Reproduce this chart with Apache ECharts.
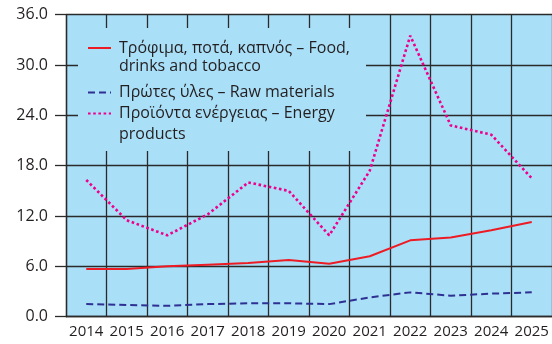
<!DOCTYPE html>
<html>
<head>
<meta charset="utf-8">
<script src="https://cdn.jsdelivr.net/npm/echarts@6/dist/echarts.min.js"></script>
<style>
  html, body { margin: 0; padding: 0; background: #ffffff; }
  #chart { width: 552px; height: 344px; }
</style>
</head>
<body>
<div id="chart"></div>
<script>
// Price indices by product group, 2014–2025
const years = ['2014', '2015', '2016', '2017', '2018', '2019', '2020', '2021', '2022', '2023', '2024', '2025'];
const food = [5.7, 5.7, 6.0, 6.2, 6.4, 6.75, 6.3, 7.2, 9.1, 9.45, 10.3, 11.3];
const rawMaterials = [1.5, 1.4, 1.3, 1.5, 1.6, 1.6, 1.5, 2.3, 2.9, 2.5, 2.75, 2.9];
const energy = [16.3, 11.5, 9.7, 12.2, 16.0, 15.0, 9.7, 17.4, 33.5, 22.8, 21.7, 16.5];

const seriesNames = [
  'Τρόφιμα, ποτά, καπνός – Food,\ndrinks and tobacco',
  'Πρώτες ύλες – Raw materials',
  'Προϊόντα ενέργειας – Energy\nproducts'
];

const yMin = 0, yMax = 36, yStep = 6;

const FONT = '"Open Sans", "Noto Sans", sans-serif';
const TEXT = '#231f20';
const PLOT_BG = '#aadff8';
const GRID_LINE = '#2a2a2a';

const chart = echarts.init(document.getElementById('chart'), null, { renderer: 'canvas' });

// One legend block per series; two-line names get a blank leading line so
// the key line sits level with the first line of text.
function legendBlock(name, top, multiLine, lineHeight) {
  return {
    show: true,
    orient: 'vertical',
    left: 87,
    top: top,
    padding: 0,
    itemWidth: 23,
    itemHeight: 14,
    selectedMode: false,
    data: [name],
    formatter: function (n) { return multiLine ? '\n' + n : n; },
    itemStyle: { opacity: 0 },
    textStyle: {
      fontFamily: FONT,
      fontSize: 16,
      color: TEXT,
      lineHeight: lineHeight,
      padding: [0, 0, 0, 3]
    }
  };
}

const option = {
  backgroundColor: '#ffffff',
  animation: false,
  grid: {
    left: 66,
    top: 14.7,
    right: -6,
    bottom: 27.3,
    show: true,
    backgroundColor: PLOT_BG,
    borderWidth: 0
  },
  legend: [
    legendBlock(seriesNames[0], 21, true, 18),
    legendBlock(seriesNames[1], 83, false, 19),
    legendBlock(seriesNames[2], 82, true, 21)
  ],
  graphic: [{
    type: 'rect',
    z: 1,
    shape: { x: 78, y: 28, width: 288, height: 123 },
    style: { fill: PLOT_BG },
    silent: true
  }],
  xAxis: {
    type: 'category',
    data: years,
    boundaryGap: true,
    axisLine: { show: true, lineStyle: { color: GRID_LINE, width: 1.3 } },
    axisTick: { show: false },
    axisLabel: {
      fontFamily: FONT,
      fontSize: 15,
      color: TEXT,
      margin: 8,
      interval: 0
    },
    splitLine: { show: true, interval: 0, lineStyle: { color: GRID_LINE, width: 1.3 } }
  },
  yAxis: {
    type: 'value',
    min: yMin,
    max: yMax,
    interval: yStep,
    axisLine: { show: true, lineStyle: { color: GRID_LINE, width: 1.3 } },
    axisTick: { show: true, inside: false, length: 11, lineStyle: { color: GRID_LINE, width: 1.3 } },
    axisLabel: {
      fontFamily: FONT,
      fontSize: 16,
      color: TEXT,
      margin: 18,
      formatter: function (v) { return v.toFixed(1); }
    },
    splitLine: { show: true, lineStyle: { color: GRID_LINE, width: 1.3 } }
  },
  series: [
    {
      name: seriesNames[0],
      type: 'line',
      data: food,
      symbol: 'none',
      smooth: false,
      lineStyle: { color: '#ed1c24', width: 2, type: 'solid' },
      itemStyle: { color: '#ed1c24' }
    },
    {
      name: seriesNames[1],
      type: 'line',
      data: rawMaterials,
      symbol: 'none',
      smooth: false,
      lineStyle: { color: '#2e3192', width: 2, type: [7, 4] },
      itemStyle: { color: '#2e3192' }
    },
    {
      name: seriesNames[2],
      type: 'line',
      data: energy,
      symbol: 'none',
      smooth: false,
      lineStyle: { color: '#ec008c', width: 2.6, type: [2.6, 2.6] },
      itemStyle: { color: '#ec008c' }
    }
  ]
};

chart.setOption(option);
</script>
</body>
</html>
